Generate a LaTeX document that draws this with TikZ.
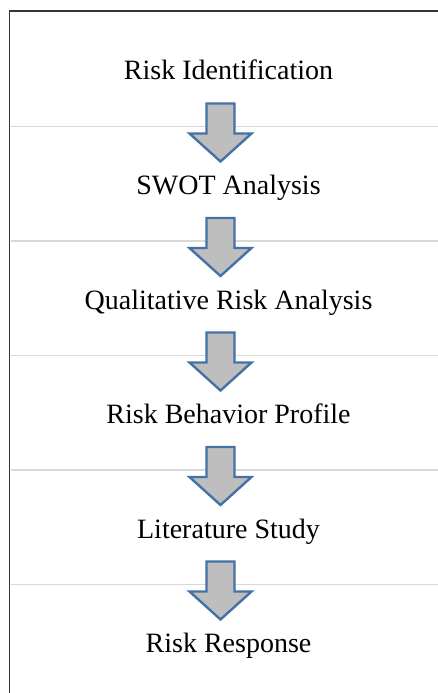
\documentclass[tikz,border=0pt]{standalone}
\usepackage{fontspec}
\setmainfont{Liberation Serif}
\definecolor{arrowfill}{HTML}{BEBEBE}
\definecolor{arrowedge}{HTML}{4472A4}
\definecolor{rulegray}{HTML}{D9D9D9}
\definecolor{framegray}{HTML}{353535}
\begin{document}
\begin{tikzpicture}[x=1pt,y=-1pt,
  stagetext/.style={font=\fontsize{28}{32}\selectfont, anchor=base, inner sep=0pt},
  separator/.style={draw=rulegray, line width=1.4pt},
  blockarrow/.style={fill=arrowfill, draw=arrowedge, line width=2.4pt, line join=miter},
  frameline/.style={draw=framegray, line width=1.6pt}]
  \useasboundingbox (0,0) rectangle (438,693);
  \clip (0,0) rectangle (438,693);
  % outer frame, running off the right and bottom edges
  \draw[frameline] (9.5,800) -- (9.5,11) -- (500,11);
  % thin separators between the stages
  \foreach \k in {0,...,4}
    \draw[separator] (10.5,126.5+114.5*\k) -- (440,126.5+114.5*\k);
  % stage labels
  \foreach \name/\txt [count=\k from 0] in {s0/Risk Identification, s1/SWOT Analysis,
      s2/Qualitative Risk Analysis, s3/Risk Behavior Profile, s4/Literature Study,
      s5/Risk Response}
    \node[stagetext] (\name) at (228.5,80+114.5*\k) {\txt};
  % downward block arrows between stages
  \foreach \k in {0,...,4} {
    \coordinate (a\k) at (220.5,103.5+114.5*\k);
    \draw[blockarrow] ([xshift=-14pt]a\k) -- ([xshift=14pt]a\k)
      -- ([xshift=14pt,yshift=-30pt]a\k) -- ([xshift=31pt,yshift=-30pt]a\k)
      -- ([yshift=-58pt]a\k) -- ([xshift=-31pt,yshift=-30pt]a\k)
      -- ([xshift=-14pt,yshift=-30pt]a\k) -- cycle;
  }
\end{tikzpicture}
\end{document}
